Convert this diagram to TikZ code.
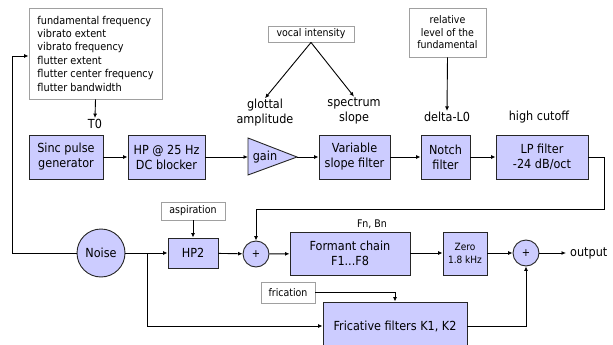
\documentclass[tikz,border=0pt]{standalone}
\usepackage{fontspec}
\setmainfont{DejaVu Sans Condensed}
\usetikzlibrary{arrows.meta}
\definecolor{lav}{HTML}{CCCCFF}
\definecolor{gbord}{HTML}{A0A0A0}
\tikzset{
  blk/.style={draw=black!85, fill=lav, line width=0.9pt, align=center, inner sep=0pt, font=\fontsize{12.5}{15}\selectfont},
  sml/.style={draw=black!85, fill=lav, line width=0.9pt, align=center, inner sep=0pt, font=\fontsize{10}{12.5}\selectfont},
  tbox/.style={draw=gbord, fill=white, line width=0.9pt, align=center, inner sep=0pt, font=\fontsize{10.5}{12.5}\selectfont},
  lbl/.style={align=center, inner sep=1pt, font=\fontsize{12.5}{15}\selectfont},
  slbl/.style={align=center, inner sep=1pt, font=\fontsize{10.5}{12}\selectfont},
  arr/.style={line width=0.9pt, -{Latex[length=4.5pt,width=4pt]}},
  ln/.style={line width=0.9pt},
}
\begin{document}
\begin{tikzpicture}[x=1pt,y=-1pt]
\useasboundingbox (0,0) rectangle (613,345);
% top parameter boxes
\node[tbox, minimum width=133pt, minimum height=91pt, align=left, font=\fontsize{10.8}{13.4}\selectfont] (param) at (95.5,53.5)
 {fundamental frequency\\vibrato extent\\vibrato frequency\\flutter extent\\flutter center frequency\\flutter bandwidth};
\node[lbl] (t0) at (95,124) {T0};
\node[tbox, minimum width=86pt, minimum height=16pt] (vocal) at (311,34) {vocal intensity};
\node[lbl] (glot) at (265,113) {glottal\\amplitude};
\node[lbl] (spec) at (354,111) {spectrum\\slope};
\node[tbox, minimum width=77pt, minimum height=49pt] (rel) at (447.5,32.5) {relative\\level of the\\fundamental};
\node[lbl] (delta) at (447,117) {delta-L0};
\node[lbl] (hcut) at (539,117) {high cutoff};
% first chain
\node[blk, minimum width=74pt, minimum height=44pt] (sinc) at (66,157) {Sinc pulse\\generator};
\node[blk, minimum width=77pt, minimum height=44pt] (hp) at (166.5,157) {HP @ 25 Hz\\DC blocker};
\coordinate (gin) at (248,157);
\coordinate (gout) at (297,157);
\draw[ln, fill=lav, draw=black!85] (248,138) -- (297,157) -- (248,175) -- cycle;
\node[lbl] (gain) at (265,157) {gain};
\node[blk, minimum width=71pt, minimum height=44pt] (vsf) at (354.5,157) {Variable\\slope filter};
\node[blk, minimum width=49pt, minimum height=44pt] (notch) at (445.5,157) {Notch\\filter};
\node[blk, minimum width=92pt, minimum height=44pt] (lp) at (542,157) {LP filter\\-24 dB/oct};
% second chain
\node[circle, draw=black!85, fill=lav, line width=0.9pt, minimum size=48pt, inner sep=0pt, font=\fontsize{12.5}{14}\selectfont] (noise) at (101,253) {Noise};
\node[tbox, minimum width=64pt, minimum height=18pt] (asp) at (193,211) {aspiration};
\node[blk, minimum width=50pt, minimum height=30pt] (hp2) at (193,253) {HP2};
\node[circle, draw=black!85, fill=lav, line width=0.9pt, minimum size=26pt, inner sep=0pt, font=\fontsize{11}{13}\selectfont] (sum1) at (256,254) {+};
\node[blk, minimum width=120pt, minimum height=43pt] (form) at (350,253.5) {Formant chain\\F1...F8};
\node[slbl] (fnbn) at (372,224) {Fn, Bn};
\node[sml, minimum width=44pt, minimum height=43pt] (zero) at (465,253.5) {Zero\\1.8 kHz};
\node[circle, draw=black!85, fill=lav, line width=0.9pt, minimum size=26pt, inner sep=0pt, font=\fontsize{11}{13}\selectfont] (sum2) at (526,253) {+};
\coordinate (outend) at (566,253);
\node[lbl, anchor=west] (out) at (569,253) {output};
\node[tbox, minimum width=54pt, minimum height=21pt] (fricp) at (288,292.5) {frication};
\node[blk, minimum width=144pt, minimum height=48pt] (fric) at (395,326) {Fricative filters K1, K2};
% connectors
\draw[arr] (param.south) -- (t0.north);
\coordinate (fbA) at (12,253);
\coordinate (fbB) at (12,56);
\draw[arr] (noise.west) -- (fbA) -- (fbB) -- (param.west |- fbB);
\draw[arr] (vocal.south) -- (glot.north);
\draw[arr] (vocal.south) -- (spec.north);
\draw[arr] (rel.south) -- (delta.north);
\draw[arr] (sinc) -- (hp);
\draw[arr] (hp) -- (gin);
\draw[arr] (gout) -- (vsf);
\draw[arr] (vsf) -- (notch);
\draw[arr] (notch) -- (lp);
\coordinate (fb1) at (604,157);
\coordinate (fb2) at (604,209);
\draw[arr] (lp.east) -- (fb1) -- (fb2) -| (sum1.north);
\coordinate (j) at (147,253);
\draw[arr] (noise.east) -- (hp2.west);
\draw[arr] (j) |- (fric.west);
\draw[arr] (asp.south) -- (hp2.north);
\draw[arr] (hp2) -- (sum1);
\draw[arr] (sum1) -- (form);
\draw[arr] (form.east |- sum2) -- (zero.west |- sum2);
\draw[arr] (zero.east |- sum2) -- (sum2.west);
\draw[arr] (sum2.east) -- (outend);
\draw[arr] (fric.east) -| (sum2.south);
\coordinate (fc) at (395,292.5);
\draw[arr] (fricp.east) -- (fc) -- (fric.north);
\end{tikzpicture}
\end{document}
